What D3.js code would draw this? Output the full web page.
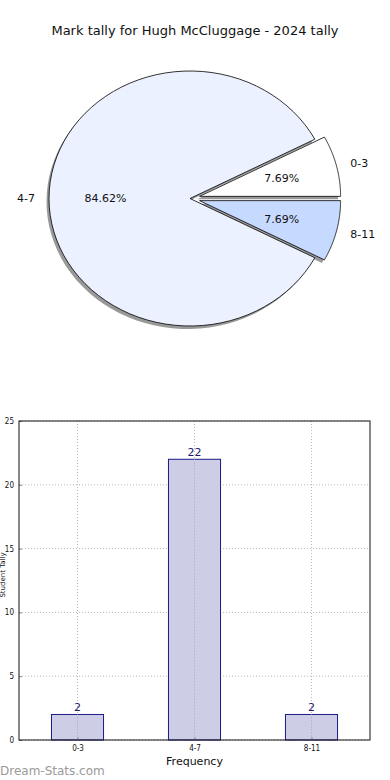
<!DOCTYPE html>
<html>
<head>
<meta charset="utf-8">
<script src="https://cdn.jsdelivr.net/npm/d3@7"></script>
<style>
  body { margin: 0; background: #fff; }
  svg { display: block; font-family: "DejaVu Sans", sans-serif; }
</style>
</head>
<body>
<div id="chart"></div>
<script>
// chart data
const titleText = 'Mark tally for Hugh McCluggage - 2024 tally';
const categories = ['0-3', '4-7', '8-11'];
const counts = [2, 22, 2];
const sliceColors = ['#ffffff', '#ebf1fe', '#c6d9fe'];
const explodes = [1, 0, 1];
const yTicks = [0, 5, 10, 15, 20, 25];

const width = 390, height = 780;
const svg = d3.select('#chart').append('svg').attr('width', width).attr('height', height);

// title
svg.append('text')
  .attr('x', 195).attr('y', 35)
  .attr('text-anchor', 'middle')
  .style('font-size', '13px')
  .style('fill', '#111')
  .text(titleText);

// ---- pie (matplotlib style, stretched ellipse, counterclockwise from 0 deg) ----
const cx = 190, cy = 198.5, rx = 141, ry = 127.5;
const total = d3.sum(counts);
const angScale = d3.scaleLinear().domain([0, total]).range([0, 2 * Math.PI]);
let acc = 0;
const slices = counts.map((v, i) => {
  const a0 = angScale(acc);
  acc += v;
  const a1 = angScale(acc);
  return { i, v, a0, a1, mid: (a0 + a1) / 2 };
});

const pt = (a, r) => [Math.cos(a) * r * rx, -Math.sin(a) * r * ry];
function slicePath(s) {
  const n = 80;
  const pts = [[0, 0]];
  for (let k = 0; k <= n; k++) pts.push(pt(s.a0 + (s.a1 - s.a0) * k / n, 1));
  return d3.line()(pts) + 'Z';
}
const offsetOf = s => explodes[s.i] ? pt(s.mid, 0.07) : [0, 0];

const pie = svg.append('g').attr('transform', `translate(${cx},${cy})`);

// shadows
pie.selectAll('path.shadow').data(slices).enter().append('path')
  .attr('class', 'shadow')
  .attr('d', slicePath)
  .attr('transform', s => { const o = offsetOf(s); return `translate(${o[0] - 2.5},${o[1] + 3})`; })
  .style('fill', '#000').style('opacity', 0.4);

pie.selectAll('path.slice').data(slices).enter().append('path')
  .attr('class', 'slice')
  .attr('d', slicePath)
  .attr('transform', s => { const o = offsetOf(s); return `translate(${o[0]},${o[1]})`; })
  .style('fill', s => sliceColors[s.i])
  .style('stroke', '#000').style('stroke-width', 0.8).style('stroke-linejoin', 'round');

// percent labels
pie.selectAll('text.pct').data(slices).enter().append('text')
  .attr('class', 'pct')
  .attr('x', s => pt(s.mid, 0.6)[0] + offsetOf(s)[0])
  .attr('y', s => pt(s.mid, 0.6)[1] + offsetOf(s)[1])
  .attr('dy', '0.35em')
  .attr('text-anchor', 'middle')
  .style('font-size', '11px').style('fill', '#111')
  .text(s => (s.v / total * 100).toFixed(2) + '%');

// category labels
pie.selectAll('text.cat').data(slices).enter().append('text')
  .attr('class', 'cat')
  .attr('x', s => pt(s.mid, 1.1)[0] + offsetOf(s)[0])
  .attr('y', s => pt(s.mid, 1.1)[1] + offsetOf(s)[1])
  .attr('dy', '0.35em')
  .attr('text-anchor', s => Math.cos(s.mid) >= 0 ? 'start' : 'end')
  .style('font-size', '11px').style('fill', '#111')
  .text(s => categories[s.i]);

// ---- bar chart ----
const plotLeft = 19, plotRight = 370, plotTop = 421, plotBottom = 740;
const x = d3.scalePoint().domain(categories).range([plotLeft, plotRight]).padding(0.5);
const y = d3.scaleLinear().domain([0, 25]).range([plotBottom, plotTop]);
const barW = x.step() * 0.445;

const chart = svg.append('g');

// grid
chart.selectAll('line.gy').data(yTicks).enter().append('line')
  .attr('x1', plotLeft).attr('x2', plotRight)
  .attr('y1', d => y(d)).attr('y2', d => y(d))
  .style('stroke', '#b8b8b8').style('stroke-dasharray', '1,2');
chart.selectAll('line.gx').data(categories).enter().append('line')
  .attr('x1', d => x(d)).attr('x2', d => x(d))
  .attr('y1', plotTop).attr('y2', plotBottom)
  .style('stroke', '#b8b8b8').style('stroke-dasharray', '1,2');

// bars
chart.selectAll('rect.bar').data(counts).enter().append('rect')
  .attr('x', (d, i) => x(categories[i]) - barW / 2)
  .attr('y', d => y(d))
  .attr('width', barW)
  .attr('height', d => plotBottom - y(d))
  .style('fill', '#cdcde6')
  .style('stroke', '#1a1a8a').style('stroke-width', 1);

// grid over bars
chart.selectAll('line.gx2').data(categories).enter().append('line')
  .attr('x1', d => x(d)).attr('x2', d => x(d))
  .attr('y1', (d, i) => y(counts[i])).attr('y2', plotBottom)
  .style('stroke', '#a8a8b8').style('stroke-dasharray', '1,2');

// value labels
chart.selectAll('text.val').data(counts).enter().append('text')
  .attr('x', (d, i) => x(categories[i]))
  .attr('y', d => y(d) - 3)
  .attr('text-anchor', 'middle')
  .style('font-size', '11px').style('fill', '#1a1a6e')
  .text(d => d);

// axes
const yAxis = chart.append('g').attr('transform', `translate(${plotLeft},0)`)
  .call(d3.axisLeft(y).tickValues(yTicks).tickSize(-3).tickPadding(5));
const xAxis = chart.append('g').attr('transform', `translate(0,${plotBottom})`)
  .call(d3.axisBottom(x).tickSize(-3).tickPadding(5));
[yAxis, xAxis].forEach(ax => {
  ax.select('.domain').remove();
  ax.selectAll('line').style('stroke', '#888');
  ax.selectAll('text').style('font-size', '8px').style('fill', '#111')
    .style('font-family', '"Liberation Sans Narrow", "DejaVu Sans Condensed", sans-serif');
});

// frame
chart.append('rect')
  .attr('x', plotLeft).attr('y', plotTop)
  .attr('width', plotRight - plotLeft).attr('height', plotBottom - plotTop)
  .style('fill', 'none').style('stroke', '#111').style('stroke-width', 1);

// axis titles
chart.append('text')
  .attr('x', (plotLeft + plotRight) / 2).attr('y', 765)
  .attr('text-anchor', 'middle')
  .style('font-size', '11px').style('fill', '#111')
  .text('Frequency');
chart.append('text')
  .attr('transform', 'translate(5,575) rotate(-90)')
  .attr('text-anchor', 'middle')
  .style('font-size', '7px').style('fill', '#111')
  .text('Student Tally');

// watermark
svg.append('text')
  .attr('x', 0).attr('y', 775)
  .style('font-size', '12px').style('fill', '#9a9a9a')
  .text('Dream-Stats.com');
</script>
</body>
</html>
